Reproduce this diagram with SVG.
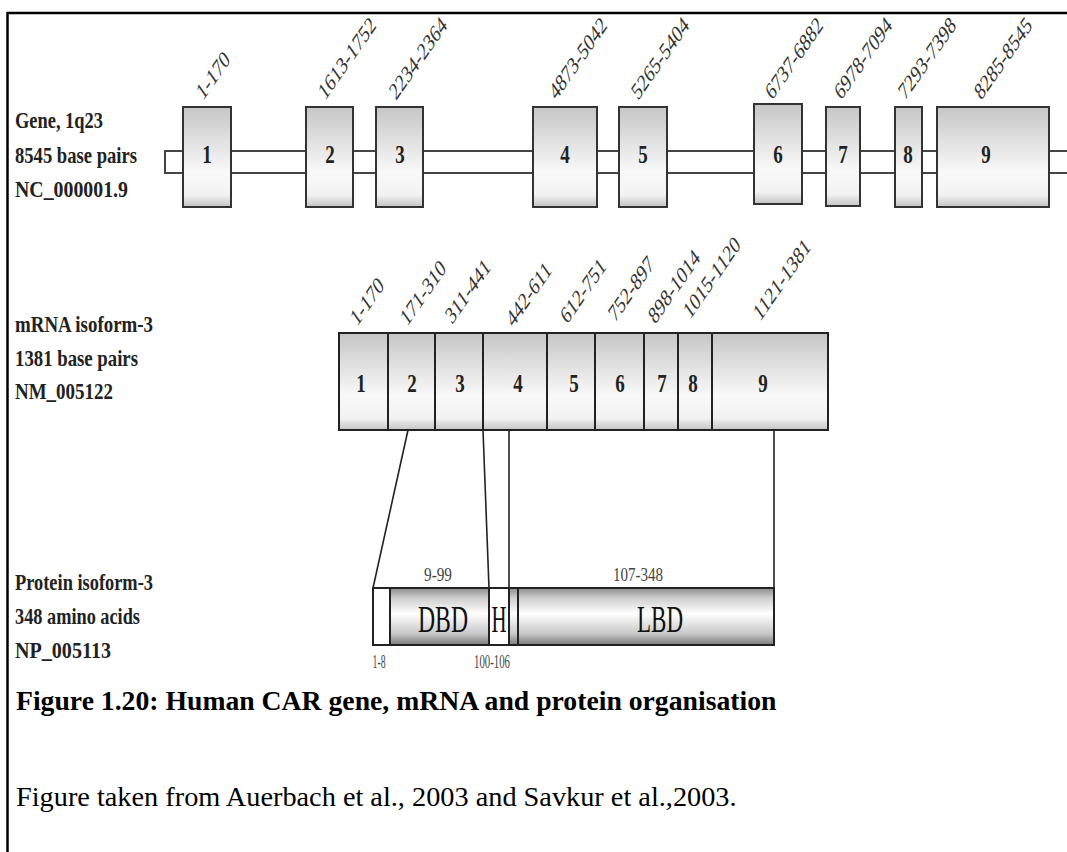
<svg xmlns="http://www.w3.org/2000/svg" width="1067" height="852" viewBox="0 0 1067 852">
<defs>
<linearGradient id="exonGrad" x1="0" y1="0" x2="0" y2="1">
<stop offset="0" stop-color="#c6c6c6"/>
<stop offset="0.65" stop-color="#f9f9f9"/>
<stop offset="0.88" stop-color="#f2f2f2"/>
<stop offset="1" stop-color="#c4c4c4"/>
</linearGradient>
<linearGradient id="protGrad" x1="0" y1="0" x2="0" y2="1">
<stop offset="0" stop-color="#8c8c8c"/>
<stop offset="0.18" stop-color="#cfcfcf"/>
<stop offset="0.45" stop-color="#ffffff"/>
<stop offset="0.8" stop-color="#c8c8c8"/>
<stop offset="1" stop-color="#7a7a7a"/>
</linearGradient>
<style>
.exon{fill:url(#exonGrad);stroke:#333;stroke-width:2}
.seg{fill:url(#exonGrad);stroke:#222;stroke-width:2}
.prot{fill:url(#protGrad);stroke:#222;stroke-width:2}
.white{fill:#fff;stroke:#222;stroke-width:2}
.lbl{font-family:"Liberation Serif","Times New Roman",serif;font-weight:bold;font-size:18px;fill:#222}
.num{font-family:"Liberation Serif","Times New Roman",serif;font-weight:bold;font-size:19px;fill:#222;text-anchor:middle}
.rot{font-family:"Liberation Serif","Times New Roman",serif;font-size:17px;fill:#333}
.small{font-family:"Liberation Serif","Times New Roman",serif;font-size:14px;fill:#444;text-anchor:middle}
.dom{font-family:"Liberation Serif","Times New Roman",serif;font-size:28px;fill:#111;text-anchor:middle}
.conn{stroke:#222;stroke-width:1.6;fill:none}
.cap{font-family:"Liberation Serif","Times New Roman",serif;fill:#000}
</style>
</defs>
<rect width="1067" height="852" fill="#fff"/>
<g id="frame">
<line x1="7" y1="13" x2="1067" y2="13" stroke="#000" stroke-width="2.5"/>
<line x1="7.5" y1="12" x2="7.5" y2="852" stroke="#000" stroke-width="2.5"/>
</g>

<g id="gene-labels">
<text class="lbl" transform="translate(15,128) scale(1,1.3)" textLength="88" lengthAdjust="spacingAndGlyphs">Gene, 1q23</text>
<text class="lbl" transform="translate(15,163) scale(1,1.3)" textLength="122" lengthAdjust="spacingAndGlyphs">8545 base pairs</text>
<text class="lbl" transform="translate(15,197) scale(1,1.3)" textLength="113" lengthAdjust="spacingAndGlyphs">NC_000001.9</text>
</g>

<g id="gene-intron">
<rect x="165" y="151" width="920" height="22" fill="#fff" stroke="#444" stroke-width="2"/>
</g>

<g id="gene-exon-1"><rect class="exon" x="183" y="107" width="48" height="100"/><text class="num" transform="translate(207,163) scale(1,1.3)">1</text><text class="rot" transform="translate(203,101) scale(1,1.43) rotate(-45)">1-170</text></g>
<g id="gene-exon-2"><rect class="exon" x="306" y="107" width="47" height="100"/><text class="num" transform="translate(330,163) scale(1,1.3)">2</text><text class="rot" transform="translate(325,101) scale(1,1.43) rotate(-45)">1613-1752</text></g>
<g id="gene-exon-3"><rect class="exon" x="376" y="107" width="47" height="100"/><text class="num" transform="translate(400,163) scale(1,1.3)">3</text><text class="rot" transform="translate(396,101) scale(1,1.43) rotate(-45)">2234-2364</text></g>
<g id="gene-exon-4"><rect class="exon" x="533" y="107" width="64" height="100"/><text class="num" transform="translate(565,163) scale(1,1.3)">4</text><text class="rot" transform="translate(556,101) scale(1,1.43) rotate(-45)">4873-5042</text></g>
<g id="gene-exon-5"><rect class="exon" x="619" y="107" width="48" height="100"/><text class="num" transform="translate(643,163) scale(1,1.3)">5</text><text class="rot" transform="translate(638,101) scale(1,1.43) rotate(-45)">5265-5404</text></g>
<g id="gene-exon-6"><rect class="exon" x="754" y="104" width="48" height="100"/><text class="num" transform="translate(778,163) scale(1,1.3)">6</text><text class="rot" transform="translate(772,101) scale(1,1.43) rotate(-45)">6737-6882</text></g>
<g id="gene-exon-7"><rect class="exon" x="826" y="107" width="34" height="99"/><text class="num" transform="translate(843,163) scale(1,1.3)">7</text><text class="rot" transform="translate(841,101) scale(1,1.43) rotate(-45)">6978-7094</text></g>
<g id="gene-exon-8"><rect class="exon" x="895" y="107" width="27" height="100"/><text class="num" transform="translate(908,163) scale(1,1.3)">8</text><text class="rot" transform="translate(905,101) scale(1,1.43) rotate(-45)">7293-7398</text></g>
<g id="gene-exon-9"><rect class="exon" x="937" y="107" width="112" height="100"/><text class="num" transform="translate(986,163) scale(1,1.3)">9</text><text class="rot" transform="translate(981,101) scale(1,1.43) rotate(-45)">8285-8545</text></g>

<g id="mrna-labels">
<text class="lbl" transform="translate(15,332) scale(1,1.3)" textLength="138" lengthAdjust="spacingAndGlyphs">mRNA isoform-3</text>
<text class="lbl" transform="translate(15,366) scale(1,1.3)" textLength="123" lengthAdjust="spacingAndGlyphs">1381 base pairs</text>
<text class="lbl" transform="translate(15,399) scale(1,1.3)" textLength="98" lengthAdjust="spacingAndGlyphs">NM_005122</text>
</g>

<g id="mrna-exon-1"><rect class="seg" x="339" y="333" width="49" height="97"/><text class="num" transform="translate(361,392) scale(1,1.3)">1</text><text class="rot" transform="translate(357,327) scale(1,1.43) rotate(-45)">1-170</text></g>
<g id="mrna-exon-2"><rect class="seg" x="388" y="333" width="47" height="97"/><text class="num" transform="translate(412,392) scale(1,1.3)">2</text><text class="rot" transform="translate(407,327) scale(1,1.43) rotate(-45)">171-310</text></g>
<g id="mrna-exon-3"><rect class="seg" x="435" y="333" width="48" height="97"/><text class="num" transform="translate(460,392) scale(1,1.3)">3</text><text class="rot" transform="translate(452,325) scale(1,1.43) rotate(-45)">311-441</text></g>
<g id="mrna-exon-4"><rect class="seg" x="483" y="333" width="64" height="97"/><text class="num" transform="translate(518,392) scale(1,1.3)">4</text><text class="rot" transform="translate(513,328) scale(1,1.43) rotate(-45)">442-611</text></g>
<g id="mrna-exon-5"><rect class="seg" x="547" y="333" width="48" height="97"/><text class="num" transform="translate(574,392) scale(1,1.3)">5</text><text class="rot" transform="translate(567,325) scale(1,1.43) rotate(-45)">612-751</text></g>
<g id="mrna-exon-6"><rect class="seg" x="595" y="333" width="49" height="97"/><text class="num" transform="translate(620,392) scale(1,1.3)">6</text><text class="rot" transform="translate(615,323) scale(1,1.43) rotate(-45)">752-897</text></g>
<g id="mrna-exon-7"><rect class="seg" x="644" y="333" width="34" height="97"/><text class="num" transform="translate(662,392) scale(1,1.3)">7</text><text class="rot" transform="translate(655,325) scale(1,1.43) rotate(-45)">898-1014</text></g>
<g id="mrna-exon-8"><rect class="seg" x="678" y="333" width="34" height="97"/><text class="num" transform="translate(693,392) scale(1,1.3)">8</text><text class="rot" transform="translate(690,320) scale(1,1.43) rotate(-45)">1015-1120</text></g>
<g id="mrna-exon-9"><rect class="seg" x="712" y="333" width="116" height="97"/><text class="num" transform="translate(763,392) scale(1,1.3)">9</text><text class="rot" transform="translate(760,322) scale(1,1.43) rotate(-45)">1121-1381</text></g>

<g id="connectors">
<line class="conn" x1="408" y1="430" x2="373" y2="588"/>
<line class="conn" x1="483" y1="430" x2="489" y2="588"/>
<line class="conn" x1="509" y1="430" x2="509" y2="588"/>
<line class="conn" x1="774" y1="430" x2="774" y2="588"/>
</g>

<g id="protein-labels">
<text class="lbl" transform="translate(15,590) scale(1,1.3)" textLength="138" lengthAdjust="spacingAndGlyphs">Protein isoform-3</text>
<text class="lbl" transform="translate(15,624) scale(1,1.3)" textLength="125" lengthAdjust="spacingAndGlyphs">348 amino acids</text>
<text class="lbl" transform="translate(15,658) scale(1,1.3)" textLength="96" lengthAdjust="spacingAndGlyphs">NP_005113</text>
</g>

<g id="prot-nterm"><rect class="white" x="373" y="588" width="17" height="57"/><text class="small" transform="translate(379,668) scale(1,1.3)" fill="#666" textLength="13" lengthAdjust="spacingAndGlyphs">1-8</text></g>
<g id="prot-dbd"><rect class="prot" x="390" y="588" width="99" height="57"/><text class="small" transform="translate(438,581) scale(1,1.3)" textLength="28" lengthAdjust="spacingAndGlyphs">9-99</text><text class="dom" transform="translate(443,632) scale(1,1.35)" textLength="50" lengthAdjust="spacingAndGlyphs">DBD</text></g>
<g id="prot-hinge"><rect class="white" x="489" y="588" width="20" height="57"/><text class="dom" transform="translate(499,632) scale(1,1.35)" textLength="15" lengthAdjust="spacingAndGlyphs">H</text><text class="small" transform="translate(492,668) scale(1,1.3)" fill="#666" textLength="36" lengthAdjust="spacingAndGlyphs">100-106</text></g>
<g id="prot-link"><rect class="prot" x="509" y="588" width="9" height="57"/></g>
<g id="prot-lbd"><rect class="prot" x="518" y="588" width="256" height="57"/><text class="small" transform="translate(638,581) scale(1,1.3)" textLength="50" lengthAdjust="spacingAndGlyphs">107-348</text><text class="dom" transform="translate(660,632) scale(1,1.35)" textLength="46" lengthAdjust="spacingAndGlyphs">LBD</text></g>

<g id="caption">
<text class="cap" x="16" y="710" font-size="27.7" font-weight="bold">Figure 1.20: Human CAR gene, mRNA and protein organisation</text>
<text class="cap" x="16" y="806" font-size="28.3">Figure taken from Auerbach et al., 2003 and Savkur et al.,2003.</text>
</g>
</svg>
